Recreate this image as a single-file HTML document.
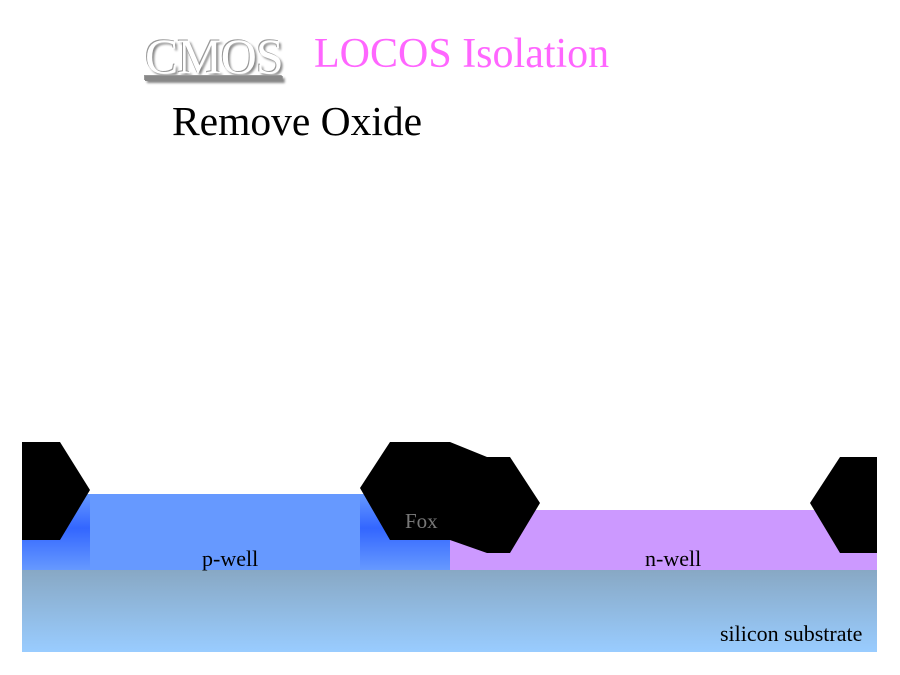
<!DOCTYPE html>
<html><head><style>
body{margin:0;width:900px;height:675px;background:#fff;position:relative;overflow:hidden;font-family:"Liberation Serif",serif}
.t{position:absolute;white-space:nowrap;font-family:"Liberation Serif",serif}
</style></head><body>
<div class="t" style="left:145px;top:27px;font-size:50px;color:#fff;text-shadow:2px 2px 2px #888,-1px -1px 0 #999;letter-spacing:-1px;text-decoration:underline;text-decoration-color:#888">CMOS</div>
<div class="t" style="left:314px;top:30px;font-size:42px;color:#ff66ff">LOCOS Isolation</div>
<div class="t" style="left:172px;top:97px;font-size:41.5px;color:#000">Remove Oxide</div>
<svg width="900" height="675" style="position:absolute;left:0;top:0">
<defs>
<linearGradient id="sub" x1="0" y1="0" x2="0" y2="1"><stop offset="0" stop-color="#88a8c4"/><stop offset="1" stop-color="#99ccff"/></linearGradient>
<linearGradient id="bd" x1="0" y1="0" x2="0" y2="1"><stop offset="0" stop-color="#6699ff"/><stop offset="0.45" stop-color="#3366ff"/><stop offset="1" stop-color="#6699ff"/></linearGradient>
</defs>
<rect x="22" y="570" width="855" height="82" fill="url(#sub)"/>
<rect x="22" y="494" width="428" height="76" fill="#6699ff"/>
<rect x="22" y="494" width="68" height="76" fill="url(#bd)"/>
<rect x="360" y="494" width="90" height="76" fill="url(#bd)"/>
<rect x="450" y="510" width="427" height="60" fill="#cc99ff"/>
<polygon points="22,442 60,442 90,490 60,540 22,540" fill="#000"/>
<polygon points="390,442 450,442 487,457 510,457 540,503 510,553 487,553 450,540 390,540 360,488" fill="#000"/>
<polygon points="840,457 877,457 877,553 840,553 810,503" fill="#000"/>
<text x="405" y="528" font-size="21" fill="#777" font-family="Liberation Serif">Fox</text>
<text x="202" y="566" font-size="22" fill="#000" font-family="Liberation Serif">p-well</text>
<text x="645" y="566" font-size="22" fill="#000" font-family="Liberation Serif">n-well</text>
<text x="720" y="641" font-size="22" fill="#000" font-family="Liberation Serif">silicon substrate</text>
</svg>
</body></html>
